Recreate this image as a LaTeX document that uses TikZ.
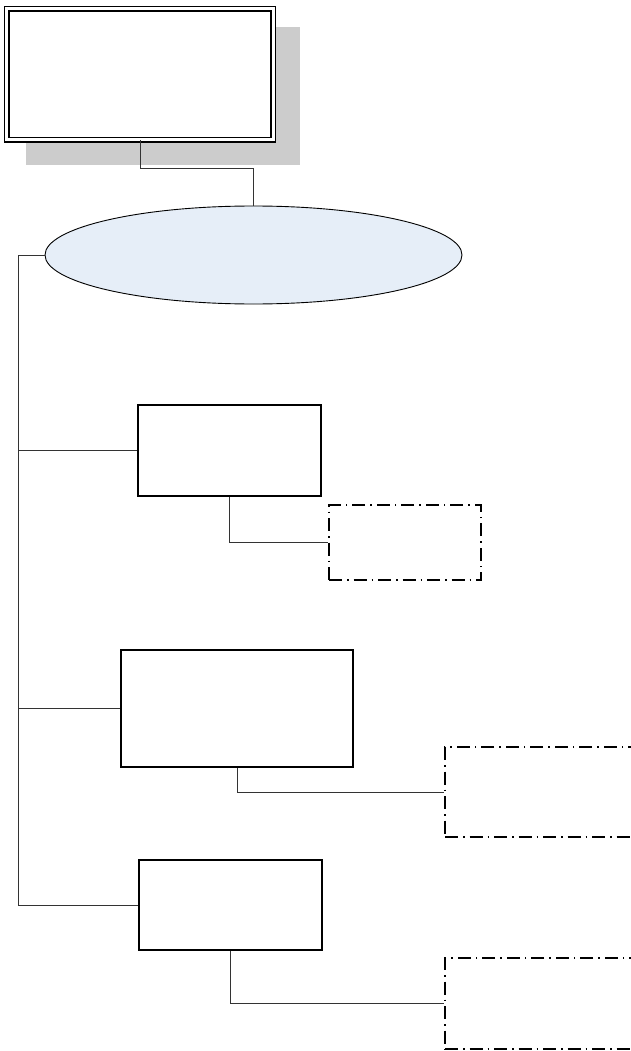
\documentclass[tikz,border=0pt]{standalone}
\usetikzlibrary{shapes.geometric}
\definecolor{ovalfill}{HTML}{E6EEF8}
\definecolor{shadowgray}{HTML}{CCCCCC}
\definecolor{linkgray}{HTML}{333333}
\tikzset{
  unitbox/.style={draw=black, line width=1.5pt, fill=white, rectangle, inner sep=0pt},
  notebox/.style={draw=black, line width=1.4pt, fill=white, rectangle, inner sep=0pt,
    dash pattern=on 13pt off 5pt on 1.5pt off 5pt},
  headbox/.style={draw=black, line width=1.5pt, double=white, double distance=2.6pt,
    fill=white, rectangle, inner sep=0pt},
  link/.style={draw=linkgray, line width=0.9pt},
}
\begin{document}
\begin{tikzpicture}[x=1pt,y=-1pt]
\useasboundingbox (0,0) rectangle (631,1051);
\clip (0,0) rectangle (631,1051);

% drop shadow behind the head box
\fill[shadowgray] (26,27) rectangle (300,165);

% head box with double border
\node[headbox, minimum width=266.5pt, minimum height=131pt] (head) at (140,74.25) {};

% central oval
\node[ellipse, draw=black, line width=0.9pt, fill=ovalfill,
      minimum width=417pt, minimum height=98pt, inner sep=0pt] (oval) at (253.5,255) {};

% second level boxes
\node[unitbox, minimum width=183pt, minimum height=91pt] (b1) at (229.5,450.5) {};
\node[unitbox, minimum width=232pt, minimum height=117pt] (b2) at (237,708.5) {};
\node[unitbox, minimum width=183pt, minimum height=90pt] (b3) at (230.5,905) {};

% dash-dotted boxes
\node[notebox, minimum width=152pt, minimum height=75pt] (d1) at (405,542.5) {};
\node[notebox, minimum width=200pt, minimum height=90pt] (d2) at (545,792) {};
\node[notebox, minimum width=200pt, minimum height=91pt] (d3) at (545,1003.5) {};

% trunk on the left
\coordinate (trunk) at (18,0);

% connectors
\draw[link] (head.south) -- ++(0,28) -| (oval.north);
\draw[link] (oval.west) -- (oval.west -| trunk) -- (b3.west -| trunk) -- (b3.west);
\draw[link] (b1.west -| trunk) -- (b1.west);
\draw[link] (b2.west -| trunk) -- (b2.west);
\draw[link] (b1.south) |- (d1.west);
\draw[link] (b2.south) |- (d2.west);
\draw[link] (b3.south) |- (d3.west);
\end{tikzpicture}
\end{document}
